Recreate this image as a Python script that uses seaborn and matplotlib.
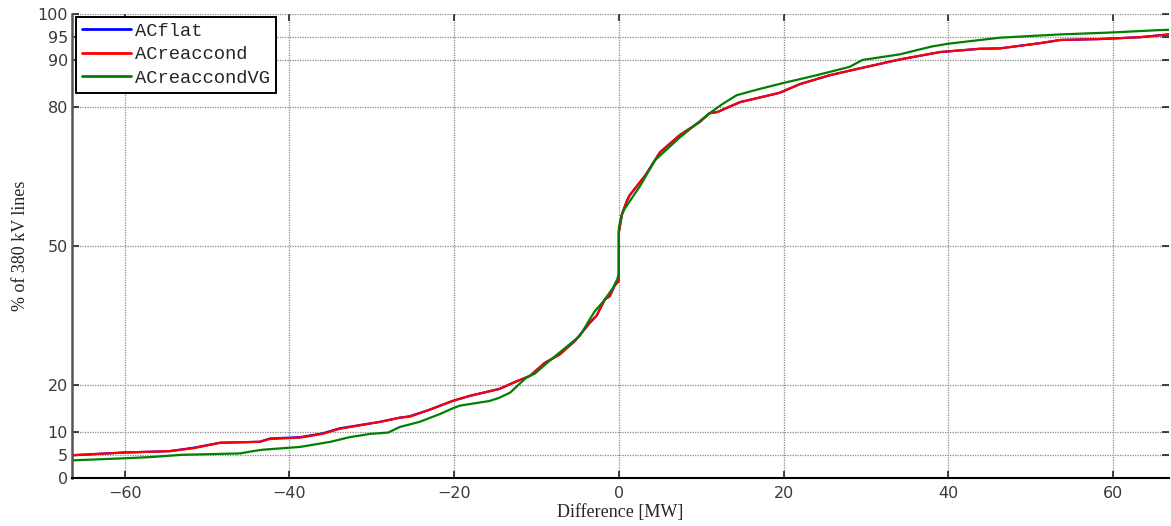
import matplotlib
matplotlib.use("Agg")
import matplotlib.pyplot as plt
import seaborn as sns
import pandas as pd

# ---- data ----
x_flat = [-66.4, -60, -56, -54.5, -51.7, -48.4, -43.6, -42.4, -38.7, -36, -33.9, -29, -26.6, -25.4,
          -23, -20.2, -18.1, -14.5, -12.6, -11.2, -10.8, -9, -7.2, -5.3, -3.5, -2.7, -1.7, -1.1, -0.5,
          0, 0, 0.4, 1.0, 1.3, 3.2, 5, 7.4, 9.8, 11, 12, 14.7, 19.5, 22, 25.6, 29.3, 34.1, 39,
          43.8, 46.3, 51.1, 53.6, 58.4, 63.3, 66.8]
y_flat = [4.9, 5.5, 5.7, 5.8, 6.5, 7.6, 7.8, 8.5, 8.8, 9.6, 10.7, 12.1, 13.0, 13.3,
          14.7, 16.6, 17.7, 19.2, 20.7, 21.7, 22.0, 24.8, 26.6, 29.6, 33.5, 35.0, 38.5, 39.2, 41.5,
          42.5, 53.0, 57.0, 59.8, 60.9, 65.2, 70.2, 73.9, 76.7, 78.6, 78.9, 81.0, 83.0, 84.9, 86.8, 88.3, 90.2, 91.8,
          92.5, 92.6, 93.7, 94.4, 94.6, 95.0, 95.6]

x_reac = x_flat
y_reac = [4.9, 5.5, 5.7, 5.8, 6.4, 7.6, 7.8, 8.4, 8.7, 9.5, 10.6, 12.1, 13.0, 13.2,
          14.7, 16.6, 17.7, 19.2, 20.7, 21.7, 22.0, 24.8, 26.6, 29.6, 33.5, 35.0, 38.5, 39.2, 41.5,
          42.5, 53.0, 57.0, 59.8, 60.9, 65.2, 70.2, 73.9, 76.7, 78.6, 78.9, 81.0, 83.0, 84.9, 86.8, 88.3, 90.2, 91.8,
          92.5, 92.6, 93.7, 94.4, 94.6, 95.0, 95.6]

x_vg = [-66.4, -60, -57, -53, -46, -44.4, -43.2, -38.7, -35, -32.7, -30.2, -28, -26.6, -24.2,
        -21.7, -20.2, -19.3, -15.7, -14.5, -13.2, -11.2, -10.2, -8.4, -6.6, -4.7, -3.5, -2.9, -1.9,
        -1.3, -0.7, -0.2, 0, 0, 0.3, 0.7, 2.6, 4.4, 7.4, 11, 12.5, 14.3, 17, 19.9, 24, 28, 29.6,
        34.1, 38, 40, 46.3, 53.6, 59.6, 65.3, 66.8]
y_vg = [3.8, 4.25, 4.5, 5.0, 5.3, 5.8, 6.1, 6.7, 7.8, 8.8, 9.5, 9.8, 11.0, 12.1,
        13.8, 15.0, 15.6, 16.6, 17.3, 18.4, 21.7, 22.5, 25.3, 27.9, 30.7, 34.3, 36.0, 38.0,
        39.5, 41.0, 42.8, 44.0, 54.0, 56.5, 58.0, 63.0, 68.5, 73.4, 78.6, 80.5, 82.5, 83.8, 85.1, 86.8, 88.6, 90.1,
        91.3, 93.0, 93.6, 94.9, 95.6, 96.0, 96.5, 96.6]

series_names = ["ACflat", "ACreaccond", "ACreaccondVG"]
series_colors = ["#0000ff", "#ff0000", "#008000"]
y_ticks = [0, 5, 10, 20, 50, 80, 90, 95, 100]
x_ticks = [-60, -40, -20, 0, 20, 40, 60]

frames = []
for name, xs, ys in zip(series_names, [x_flat, x_reac, x_vg], [y_flat, y_reac, y_vg]):
    frames.append(pd.DataFrame({"x": xs, "y": ys, "series": name}))
df = pd.concat(frames, ignore_index=True)

sns.set_style("white")
plt.rcParams["font.family"] = ["DejaVu Sans"]

fig = plt.figure(figsize=(11.71, 5.26), dpi=100)
ax = fig.add_axes([72 / 1171, 48 / 526, (1169 - 72) / 1171, (478 - 14) / 526])

sns.lineplot(data=df, x="x", y="y", hue="series", palette=dict(zip(series_names, series_colors)),
             hue_order=series_names, estimator=None, sort=False, linewidth=1.6, ax=ax,
             legend=True)

ax.set_xlim(-66.4, 66.8)
ax.set_ylim(0, 100)
ax.set_xticks(x_ticks)
ax.set_xticklabels(["\u2212" + str(-t) if t < 0 else str(t) for t in x_ticks])
ax.set_yticks(y_ticks)
ax.grid(True, color="#8a8a8a", linestyle=(0, (1, 1)), linewidth=0.9)

for s in ["top", "right"]:
    ax.spines[s].set_visible(False)
ax.spines["left"].set_color("#555555")
ax.spines["left"].set_linewidth(1.8)
ax.spines["bottom"].set_color("#000000")
ax.spines["bottom"].set_linewidth(1.5)

ax.tick_params(axis="both", which="both", direction="in", length=5, width=1.2, colors="#222222",
               labelsize=11.5, labelcolor="#3a3a3a", top=True, right=True, bottom=True, left=True)
ax.tick_params(axis="x", pad=6)
ax.tick_params(axis="y", pad=3)

ax.set_xlabel("Difference [MW]", family="Liberation Serif", fontsize=13, labelpad=2)
ax.set_ylabel("% of 380 kV lines", family="Liberation Serif", fontsize=13, labelpad=6)

handles, labels = ax.get_legend_handles_labels()
for h in handles:
    h.set_linewidth(2.0)
leg = ax.legend(handles, labels, loc="upper left", bbox_to_anchor=(0.004, 0.994),
                prop={"family": "Liberation Mono", "size": 13.5}, frameon=True, fancybox=False,
                edgecolor="black", framealpha=1, borderpad=0.3, handlelength=2.6,
                labelspacing=0.35, handletextpad=0.25, borderaxespad=0.0)
leg.get_frame().set_linewidth(1.4)

fig.savefig("out.png", dpi=100)
